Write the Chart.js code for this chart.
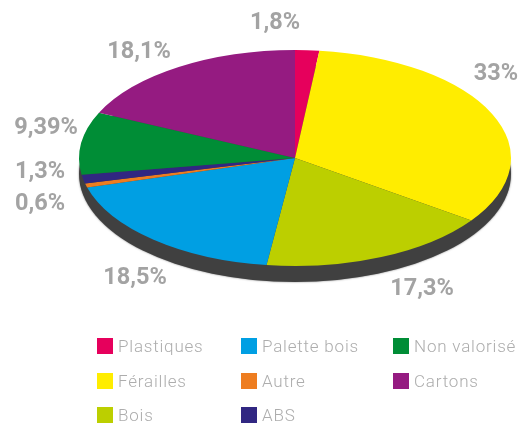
<!DOCTYPE html>
<html>
<head>
<meta charset="utf-8">
<script src="https://cdn.jsdelivr.net/npm/chart.js@4"></script>
<style>
  html, body { margin: 0; padding: 0; background: #fff; }
  #wrap { position: relative; width: 525px; height: 423px; overflow: hidden; }
  #legend {
    position: absolute; left: 97px; top: 329px;
    display: grid; grid-auto-flow: column;
    grid-template-rows: repeat(3, 34.5px);
    grid-template-columns: 144px 152px 130px;
    font: 300 17px Roboto, sans-serif; letter-spacing: 0.8px; color: #adadad;
  }
  #legend div { display: flex; align-items: center; white-space: nowrap; }
  #legend i { width: 16px; height: 16px; margin-right: 5px; flex: none; }
</style>
</head>
<body>
<div id="wrap">
  <canvas id="chart" width="525" height="423"></canvas>
  <div id="legend"></div>
</div>
<script>
const categories = ["Plastiques", "Férailles", "Bois", "Palette bois", "Autre", "ABS", "Non valorisé", "Cartons"];
const shares = [1.8, 33, 17.3, 18.5, 0.6, 1.3, 9.39, 18.1];
const colors = ["#e6005c", "#ffed00", "#bccf00", "#009fe3", "#ee7d20", "#312782", "#008d36", "#951b81"];

// where each percentage sits (centre of the text)
const labelSpots = [[275, 23], [496, 74], [422, 289], [135, 278], [40, 204], [40, 172], [46, 128], [139, 52]];

const squash = 2;   // pie is stretched sideways into an ellipse
const depth = 16;

const tiltPlugin = {
  id: "tilt",
  beforeDatasetsDraw(chart) {
    const ctx = chart.ctx;
    const arc = chart.getDatasetMeta(0).data[0];
    // dark rim under the pie
    ctx.save();
    ctx.fillStyle = "#404040";
    ctx.shadowColor = "rgba(64,64,64,0.7)";
    ctx.shadowBlur = 2;
    ctx.beginPath();
    ctx.ellipse(arc.x, arc.y + depth, arc.outerRadius * squash, arc.outerRadius, 0, 0, Math.PI * 2);
    ctx.fill();
    ctx.restore();

    ctx.save();
    ctx.translate(arc.x, arc.y);
    ctx.scale(squash, 1);
    ctx.translate(-arc.x, -arc.y);
  },
  afterDatasetsDraw(chart) {
    chart.ctx.restore();
  }
};

const percentPlugin = {
  id: "percent",
  afterDraw(chart) {
    const ctx = chart.ctx;
    ctx.save();
    ctx.font = "700 23.5px Roboto, sans-serif";
    ctx.fillStyle = "#a3a3a3";
    ctx.textAlign = "center";
    ctx.textBaseline = "middle";
    shares.forEach((v, i) => {
      ctx.fillText(String(v).replace(".", ",") + "%", labelSpots[i][0], labelSpots[i][1]);
    });
    ctx.restore();
  }
};

const chart = new Chart(document.getElementById("chart"), {
  type: "pie",
  data: {
    labels: categories,
    datasets: [{ data: shares, backgroundColor: colors, borderWidth: 0, clip: false }]
  },
  options: {
    responsive: false,
    animation: false,
    events: [],
    layout: { padding: { left: 187, right: 122, top: 50, bottom: 157 } },
    plugins: { legend: { display: false }, tooltip: { enabled: false } }
  },
  plugins: [tiltPlugin, percentPlugin]
});

const legend = document.getElementById("legend");
categories.forEach((name, i) => {
  const row = document.createElement("div");
  const box = document.createElement("i");
  box.style.background = colors[i];
  row.appendChild(box);
  row.appendChild(document.createTextNode(name));
  legend.appendChild(row);
});
</script>
</body>
</html>
